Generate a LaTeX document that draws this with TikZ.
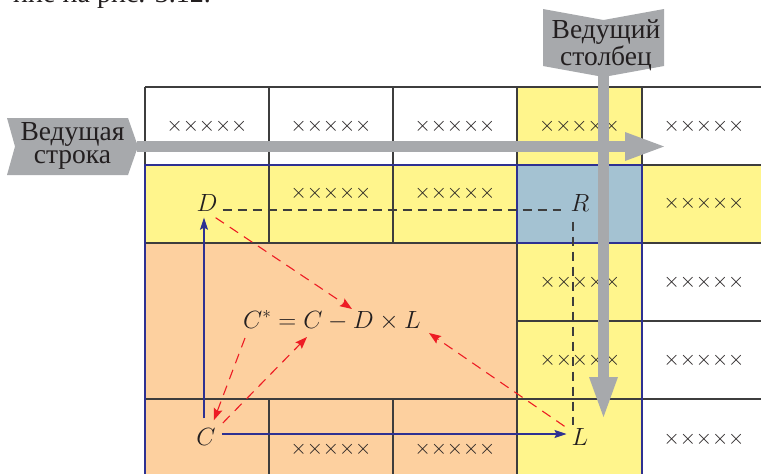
\documentclass[tikz,border=0pt]{standalone}
\usepackage{fontspec}
\setmainfont{Liberation Serif}
\usetikzlibrary{calc,arrows.meta}
\definecolor{yellowc}{HTML}{FFF58C}
\definecolor{orangec}{HTML}{FDD09F}
\definecolor{bluegc}{HTML}{A4C2D2}
\definecolor{bluec}{HTML}{2E3192}
\definecolor{grayc}{HTML}{A7A9AC}
\definecolor{gridc}{HTML}{3D3D3D}
\definecolor{redc}{HTML}{ED1C24}
\definecolor{textc}{HTML}{231F20}
\newcommand\fivecross{$\mathord{\times}\mathord{\times}\mathord{\times}\mathord{\times}\mathord{\times}$}
\begin{document}
\begin{tikzpicture}[x=1pt,y=-1pt,
  gridline/.style={draw=gridc, line width=1.2pt},
  blueline/.style={draw=bluec, line width=2.4pt},
  xcell/.style={inner sep=0pt, text=textc, font=\fontsize{22.5}{27}\selectfont},
  letter/.style={inner sep=0pt, text=textc, font=\fontsize{26}{30}\selectfont},
  lbltext/.style={inner sep=0pt, text=textc, align=center, font=\fontsize{27.5}{23.5}\selectfont},
  shaft/.style={draw=grayc, line width=11pt},
  blackdash/.style={draw=gridc, line width=1.1pt, dash pattern=on 9pt off 6pt},
  reddash/.style={draw=redc, line width=1.1pt, dash pattern=on 10pt off 7pt, -{Stealth[length=12pt,width=9pt,inset=2pt]}},
  bluearr/.style={draw=bluec, line width=1.1pt, -{Stealth[length=12pt,width=8pt,inset=2pt]}},
]
\useasboundingbox (0,0) rectangle (761,474);
\clip (0,0) rectangle (761,474);

% page text fragment
\node[anchor=base east, inner sep=0pt, text=textc, font=\fontsize{28}{30}\selectfont] (toptext) at (211,2) {ние на рис. 3.12.};

% fills
\fill[yellowc] (517,87) rectangle (642,165);
\fill[yellowc] (145,165) rectangle (517,243);
\fill[bluegc] (517,165) rectangle (642,243);
\fill[yellowc] (642,165) rectangle (770,243);
\fill[orangec] (145,243) rectangle (517,480);
\fill[yellowc] (517,243) rectangle (642,480);

% grid
\draw[gridline] (145,87) -- (770,87) (145,165) -- (770,165) (145,243) -- (770,243)
  (517,321) -- (770,321) (145,399) -- (770,399);
\draw[gridline] (145,87) -- (145,480) (269,87) -- (269,243) (269,399) -- (269,480)
  (393,87) -- (393,243) (393,399) -- (393,480) (517,87) -- (517,480) (642,87) -- (642,480);

% blue outlines
\draw[blueline] (145,480) -- (145,165) -- (642,165) -- (642,480);
\draw[blueline] (517,165) rectangle (642,243);

% crosses
\node[xcell] (x11) at (207,126) {\fivecross};
\node[xcell] (x12) at (331,126) {\fivecross};
\node[xcell] (x13) at (455,126) {\fivecross};
\node[xcell] (x14) at (579.5,126) {\fivecross};
\node[xcell] (x15) at (704,126) {\fivecross};
\node[xcell] (x22) at (331,193) {\fivecross};
\node[xcell] (x23) at (455,193) {\fivecross};
\node[xcell] (x25) at (704,203) {\fivecross};
\node[xcell] (x34) at (580,282) {\fivecross};
\node[xcell] (x35) at (704,282) {\fivecross};
\node[xcell] (x44) at (580,360) {\fivecross};
\node[xcell] (x45) at (704,360) {\fivecross};
\node[xcell] (x52) at (331,449) {\fivecross};
\node[xcell] (x53) at (455,449) {\fivecross};
\node[xcell] (x55) at (704,439) {\fivecross};

% letters
\node[letter] (D) at (207,203) {$D$};
\node[letter] (R) at (580,203) {$R$};
\node[letter] (C) at (206,437) {$C$};
\node[letter] (L) at (580,437) {$L$};
\node[letter, anchor=base west] (F) at (243,328) {$C^*=C-D\times L$};

\coordinate (fD) at (352,309);
\coordinate (fCs) at (245,338);
\coordinate (fC) at (307,337);
\coordinate (fL) at (429,333);

% black dashed
\draw[blackdash] ($(D.east)+(5,7)$) -- ($(R.west)+(-9,7)$);
\draw[blackdash] ($(R.south)+(-7,10)$) -- ($(L.north)+(-7,-3)$);

% blue arrows
\draw[bluearr] ($(C.north)+(-2,-10)$) -- ($(D.south)+(-3,6)$);
\draw[bluearr] ($(C.east)+(6,-3)$) -- ($(L.west)+(-5,-3)$);

% red arrows
\draw[reddash] ($(D.south east)+(-2,6)$) -- (fD);
\draw[reddash] (fCs) -- ($(C.north east)+(-2,-8)$);
\draw[reddash] ($(C.east)+(7,-14)$) -- (fC);
\draw[reddash] ($(L.north west)+(-7,-2)$) -- (fL);

% leading row label + arrow
\fill[grayc] (7,118) -- (128,118) -- (138,146.5) -- (128,175) -- (7,175) -- (15,146.5) -- cycle;
\node[lbltext] (rowlbl) at (72.5,146) {Ведущая\\строка};
\coordinate (rowtail) at (137,146.5);
\coordinate (rowhead) at (626,146.5);
\draw[shaft] (rowtail) -- (rowhead);
\fill[grayc] (625,132) -- (664,146.5) -- (625,161) -- cycle;

% leading column label + arrow
\fill[grayc] (543,9) -- (603.5,20) -- (664,9) -- (664,66) -- (603.5,77) -- (543,66) -- cycle;
\node[lbltext] (collbl) at (606,45.5) {Ведущий\\столбец};
\coordinate (coltail) at (603.5,76);
\coordinate (colhead) at (603.5,378);
\draw[shaft] (coltail) -- (colhead);
\fill[grayc] (589,377) -- (603.5,417) -- (618,377) -- cycle;
\end{tikzpicture}
\end{document}
